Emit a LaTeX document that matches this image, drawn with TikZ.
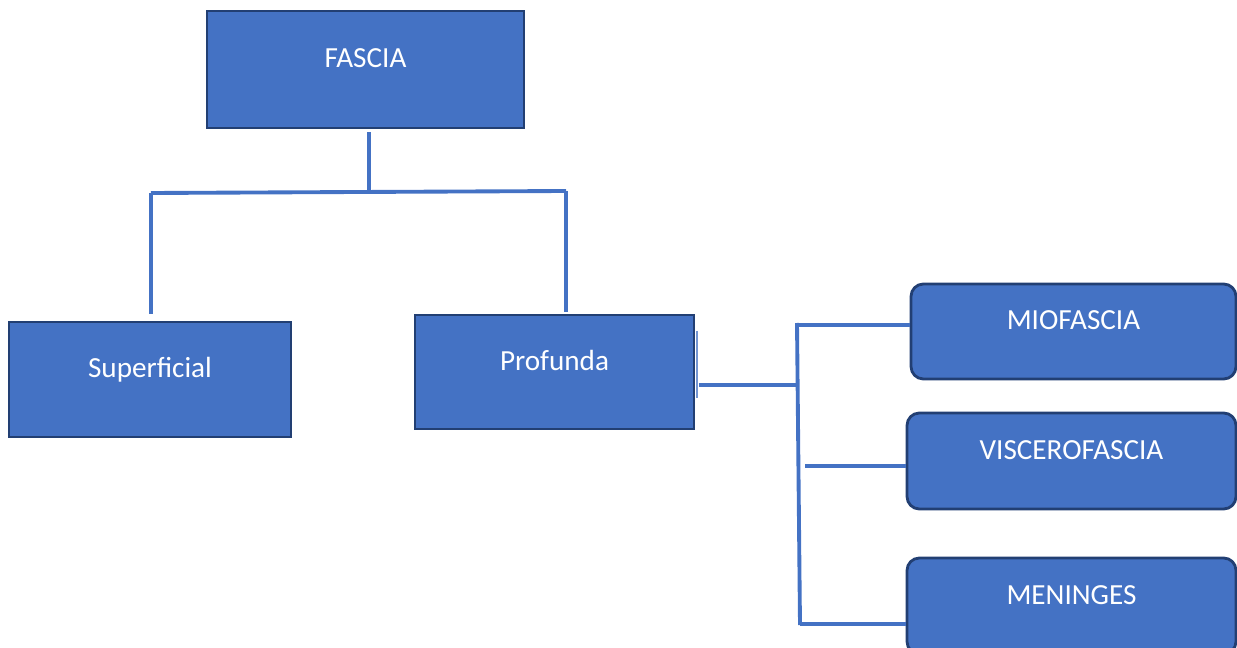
\documentclass[tikz,border=0pt]{standalone}
\usepackage{fontspec}
\setmainfont{Carlito}
\usetikzlibrary{calc}
\definecolor{boxblue}{HTML}{4472C4}
\definecolor{boxedge}{HTML}{223F73}
\tikzset{bx/.append style={draw=boxedge, fill=boxblue, line width=1.6pt, text=white, inner sep=0pt, font=\fontsize{16.6}{19}\selectfont, text height=10.7pt, text depth=12.9pt}}
\tikzset{rb/.append style={rounded corners=7pt}}
\tikzset{ln/.append style={draw=boxblue, line width=2.2pt}}

\begin{document}
\begin{tikzpicture}[x=0.02cm,y=-0.02cm]
                \useasboundingbox (0,0) rectangle (1237,648);
                \clip (0,0) rectangle (1237,648);
                % boxes
                \node[bx, minimum width=6.34cm, minimum height=2.34cm] (fascia) at (365.5,69.5) {FASCIA};
                \node[bx, minimum width=5.64cm, minimum height=2.30cm] (superficial) at (150,379.5) {Superficial};
                \node[bx, minimum width=5.58cm, minimum height=2.28cm] (profunda) at (554.5,372) {Profunda};
                \node[bx,rb, minimum width=6.50cm, minimum height=1.90cm] (miofascia) at (1073.5,331.5) {MIOFASCIA};
                \node[bx,rb, minimum width=6.58cm, minimum height=1.92cm] (viscerofascia) at (1071.5,461) {VISCEROFASCIA};
                \node[bx,rb, minimum width=6.58cm, minimum height=1.92cm] (meninges) at (1071.5,606) {MENINGES};
                % junctions
                \coordinate (top) at (369,192);
                \coordinate (barL) at (151,193);
                \coordinate (barR) at (566,191);
                \coordinate (hub) at (797,385);
                \coordinate (spineT) at (797,323);
                \coordinate (spineB) at (800,625);
                \coordinate (b1) at (797,325);
                \coordinate (b2) at (805,466);
                \coordinate (b3) at (800,624);
                % connectors
                \draw[ln, shorten <=1.5pt] (fascia.south -| top) -- (top);
                \draw[ln] (barL) -- (barR);
                \draw[ln, shorten >=4pt] (barL) -- (superficial.north -| barL);
                \draw[ln, shorten >=1pt] (barR) -- (profunda.north -| barR);
                \draw[ln, shorten <=2pt] (profunda.east |- hub) -- (hub);
                \draw[ln] (spineT) -- (spineB);
                \draw[ln] (b1) -- (miofascia.west |- b1);
                \draw[ln] (b2) -- (viscerofascia.west |- b2);
                \draw[ln] (b3) -- (meninges.west |- b3);
                \draw[ln, draw=boxblue!75!white, line width=1.2pt] ($(profunda.east)+(2,-41)$) -- ($(profunda.east)+(2,26)$);
\end{tikzpicture}
\end{document}
